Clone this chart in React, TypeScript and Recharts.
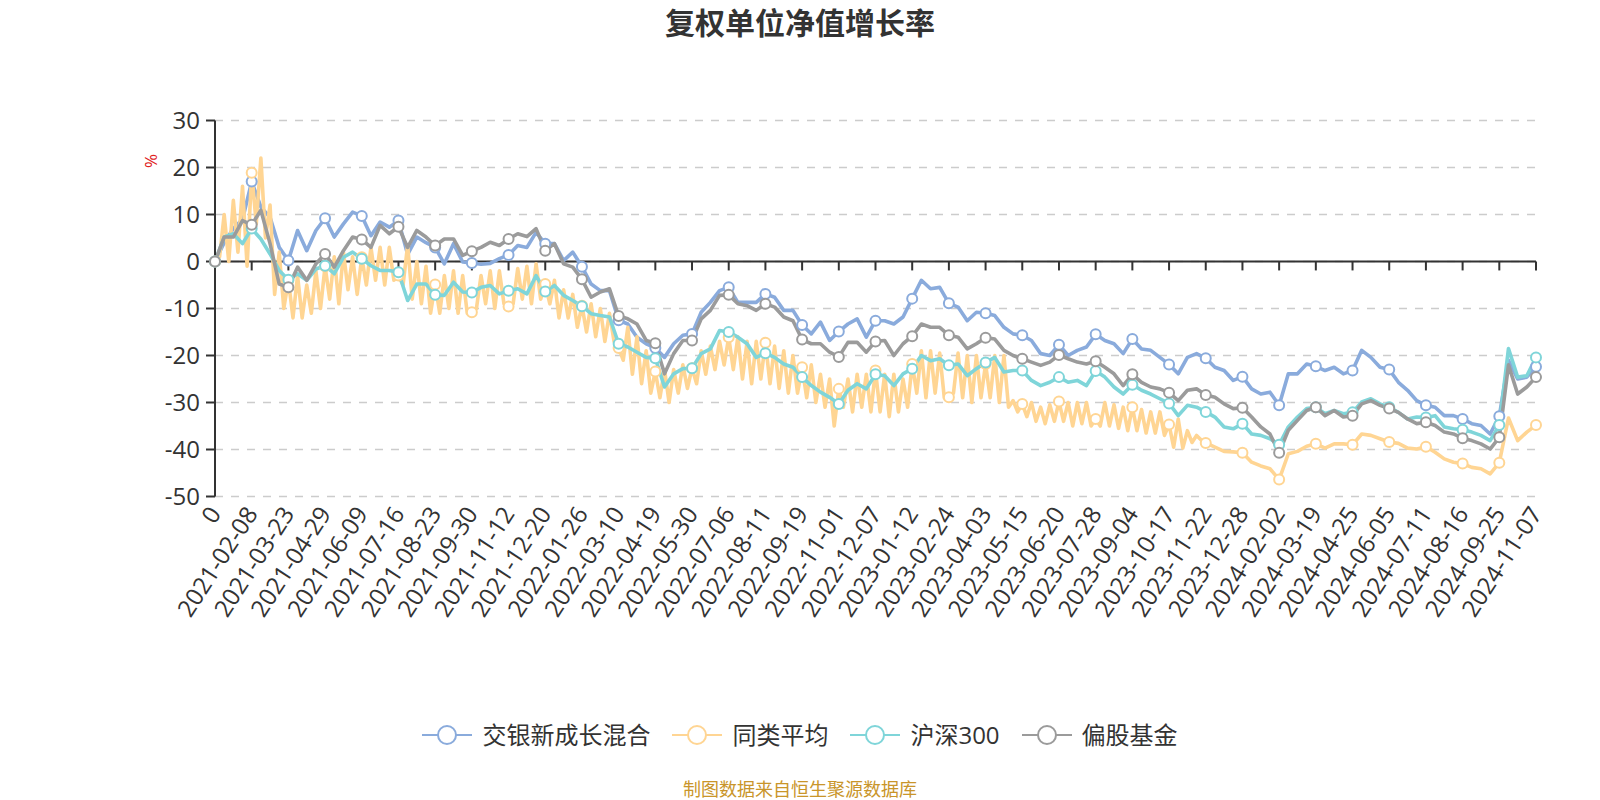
import React from 'react';
import { LineChart, Line, XAxis, YAxis, CartesianGrid, ReferenceLine, Legend } from 'recharts';

const STEP = 4;

const tickLabels = ['0','2021-02-08','2021-03-23','2021-04-29','2021-06-09','2021-07-16','2021-08-23','2021-09-30','2021-11-12','2021-12-20','2022-01-26','2022-03-10','2022-04-19','2022-05-30','2022-07-06','2022-08-11','2022-09-19','2022-11-01','2022-12-07','2023-01-12','2023-02-24','2023-04-03','2023-05-15','2023-06-20','2023-07-28','2023-09-04','2023-10-17','2023-11-22','2023-12-28','2024-02-02','2024-03-19','2024-04-25','2024-06-05','2024-07-11','2024-08-16','2024-09-25','2024-11-07'];

const fundValues = [0,4,7,9,17,11.6,9.4,3,0.2,6.6,
2.3,6.6,9.2,5.2,8,10.5,9.7,5.5,8.4,7.3,
8.7,1.5,5.2,4,3,-0.5,3.8,-0.1,-0.3,-0.6,
-0.4,0.6,1.4,3.4,3,6.2,3.8,3.8,0.2,2,
-1.1,-4.8,-6.2,-6.2,-12.5,-13.3,-16.1,-17.5,-18.4,-20.4,
-17.5,-15.7,-15.4,-10.8,-8.7,-6.2,-5.5,-8.7,-8.7,-8.7,
-6.9,-7.6,-10.4,-10.4,-13.5,-15.4,-12.9,-16.8,-14.9,-13.3,
-12.2,-16.1,-12.6,-12.6,-13.3,-11.8,-7.9,-4,-5.8,-5.5,
-8.9,-9.7,-12.6,-10.8,-11,-11.5,-14,-15.4,-15.7,-16.8,
-19.6,-20,-17.7,-20,-18.9,-18.2,-15.5,-16.8,-17.5,-19.6,
-16.5,-18.6,-18.9,-20.4,-21.9,-23.9,-20.4,-19.6,-20.6,-22.5,
-23.2,-25.3,-24.5,-27.1,-28.2,-27.8,-30.6,-23.9,-23.9,-21.8,
-22.3,-23.2,-22.5,-23.9,-23.2,-18.9,-20.4,-22.5,-23,-25.7,
-27.4,-29.6,-30.6,-31,-32.8,-32.8,-33.5,-34.5,-34.9,-36.7,
-32.9,-21,-25,-24.6,-22.4];

// 同类平均: half-step readings up to index 107.5 (8 per tick interval), then one per step
const peerAvgFineValues = [
0,1,10,0,13,2,16,-1,
18.9,8,22,5,12,-7,2,-10,
-4,-12,-3,-12,-5,-11,-2,-10,
-1,-8,1,-9,2,-6,1,-7,
0.9,-5,3,-4,3,-5,3,-4,
-3,-5,3.5,-8,0,-9,-1,-11,
-4.9,-11,-3,-10,-2,-11,-3,-11,
-10.8,-10,-3,-9,-2,-10,-2,-9,
-9.6,-9,-1.5,-8,-1,-9,-0.5,-8,
-4.8,-9,-4,-12,-6,-12,-7,-14,
-9.4,-15,-9,-16,-10,-17,-11,-17,
-18.4,-21,-14,-24,-16,-26,-19,-28,
-23.4,-29,-23,-30,-23,-28,-22,-27,
-22.7,-26,-19,-24,-18,-23,-17,-22,
-16.1,-23,-16,-25,-17,-26,-17,-25,
-17.3,-26,-18,-27,-19,-28,-20,-28,
-22.5,-29,-22,-30,-24,-31,-25,-35,
-27.1,-31,-25,-32,-24,-31,-24,-32,
-23.2,-32,-24,-33,-24,-32,-25,-31,
-21.8,-28,-19,-29,-19,-28,-19.5,-29,
-28.9,-28,-19.5,-29,-20,-30,-20,-29,
-21.8,-29,-20,-30,-20,-31,-29.6,-32,
-30.3,-33,-30,-34,-31,-34.5,-30.5,-34,
-29.8,-34,-30,-35,-30,-34.5,-30,-35,
-33.5,-35,-30,-35,-30.5,-35.5,-31,-36,
-31,-36,-31.5,-36.5,-32,-36.5,-32,-37,
-34.7,-39.5,-33.5,-39.7,-36,-38.5,-37,-38];
const peerAvgCoarseValues = [-38.6,-39.5,-40.4,-40.5,-40.7,-42.7,-43.5,-44.1,-46.4,-40.9,
-40.4,-39.3,-38.8,-39.7,-38.8,-38.8,-39,-36.7,-37,-37.7,
-38.4,-38.7,-39.7,-39.9,-39.4,-40.6,-42,-42.7,-43,-43.8,
-44.1,-45.2,-42.8,-33.3,-38.1,-36.3,-34.8];

const hs300Values = [0,5.2,5.9,3.8,7,4.8,1.6,-1.9,-3.9,-2.6,
-4,-1.6,-0.9,-2.6,0.9,2,0.6,-0.9,-1.9,-1.9,
-2.3,-8.3,-4.8,-4.8,-7.1,-7.2,-4.4,-6.5,-6.6,-5.5,
-5.1,-6.9,-6.2,-5.8,-6.9,-3,-6.4,-5.1,-7.2,-8.3,
-9.5,-11.1,-11.5,-11.8,-17.5,-18.2,-19.3,-20.4,-20.6,-26.7,
-23.9,-22.8,-22.7,-19.6,-18.6,-14.7,-15,-16.1,-17.5,-20.4,
-19.5,-20.4,-21.8,-22.5,-24.6,-26.4,-27.8,-28.9,-30.3,-27.4,
-26,-27.1,-24,-24.3,-26.4,-23.9,-22.8,-20,-21.1,-20.7,
-22.1,-21.8,-24.3,-22.8,-21.5,-20.4,-23.5,-23.2,-23.2,-25.3,
-26.4,-25.7,-24.6,-25.7,-25.3,-26.4,-23.3,-24.6,-26.7,-28.2,
-26.2,-27.4,-28.2,-29.2,-30.2,-32.8,-30.6,-31,-32,-33.1,
-35.2,-35.6,-34.5,-36.7,-37,-37.7,-39,-35.2,-33.1,-31.3,
-31,-32.4,-31.7,-32.4,-32.1,-29.9,-29.2,-30.3,-31,-32.1,
-33.5,-33.1,-33.2,-32.8,-35.2,-35.6,-35.8,-36.3,-37,-38.1,
-34.8,-18.5,-24.6,-24.3,-20.4];

const equityFundValues = [0,5.2,5.2,8.7,7.8,10.9,3.8,-4.8,-5.5,-1.2,
-4,-0.5,1.6,-1.2,2.3,5.2,4.7,3,7.7,5.9,
7.4,3,6.6,5.2,3.4,4.8,4.8,1.3,2.2,3,
4.1,3.4,4.8,5.9,5.3,7,2.3,3.8,-0.5,-1.2,
-3.8,-7.6,-6.5,-5.8,-11.6,-12.2,-13.3,-16.8,-17.4,-23.9,
-19.6,-16.8,-16.8,-12.2,-10.4,-7.2,-7.1,-9,-9.4,-10.4,
-9,-9.7,-11.8,-12.6,-16.6,-17.5,-17.5,-19.3,-20.3,-17.2,
-17.2,-19.3,-17,-16.8,-20,-17.5,-15.9,-13.3,-14,-14,
-15.7,-16.1,-18.6,-17.5,-16.2,-16.5,-18.9,-20,-20.7,-21.4,
-22.1,-21.4,-19.9,-20.7,-21.4,-21.8,-21.2,-22.5,-23.9,-26.4,
-24,-25.7,-26.7,-27.1,-27.9,-29.6,-27.4,-27.1,-28.4,-28.9,
-30.3,-31.3,-31.1,-33.1,-35.2,-36.7,-40.7,-35.9,-33.8,-31.7,
-31,-32.8,-31.7,-33.1,-32.8,-30.3,-29.6,-30.6,-31.3,-32.1,
-33.5,-34.5,-34.2,-34.9,-36.3,-36.7,-37.6,-38.1,-38.8,-39.9,
-37.4,-22,-28.2,-26.7,-24.6];

const yTicks = [-50, -40, -30, -20, -10, 0, 10, 20, 30];

const COLORS = { fund: '#8AABDC', peer: '#FFD593', hs300: '#7FD5D9', equity: '#9B9B9B' };

const mainData = fundValues.map((v, i) => ({ idx: i, fund: v, hs300: hs300Values[i], equity: equityFundValues[i] }));
const peerData = [
  ...peerAvgFineValues.map((v, j) => ({ idx: j / 2, peer: v })),
  ...peerAvgCoarseValues.map((v, k) => ({ idx: peerAvgFineValues.length / 2 + k, peer: v })),
];

const seriesDefs = [
  { key: 'fund', name: '交银新成长混合', color: COLORS.fund, data: mainData },
  { key: 'peer', name: '同类平均', color: COLORS.peer, data: peerData },
  { key: 'hs300', name: '沪深300', color: COLORS.hs300, data: mainData },
  { key: 'equity', name: '偏股基金', color: COLORS.equity, data: mainData },
];

const xTicks = tickLabels.map((_, k) => k * STEP);
const TICK_LEN = 1.9;

const FONT = "'Open Sans', 'Noto Sans CJK SC', sans-serif";

const XTick = (props: any) => {
  const { x, y, payload } = props;
  const label = tickLabels[Math.round(payload.value / STEP)];
  const ax = x - 1;
  const ay = y + 12;
  return (
    <text x={ax} y={ay} transform={`rotate(-57 ${ax} ${ay})`} textAnchor="end" dominantBaseline="central" fontSize={24} fill="#333" fontFamily={FONT}>
      {label}
    </text>
  );
};

const makeDot = (color: string) => (props: any) => {
  const { cx, cy, index, payload } = props;
  const x = payload ? payload.idx : -1;
  if (x % STEP !== 0 || cx == null || cy == null) return <g key={`e-${index}`} />;
  return <circle key={`d-${index}`} cx={cx} cy={cy} r={5} fill="#fff" stroke={color} strokeWidth={2} />;
};

const LegendContent = () => (
  <div style={{ display: 'flex', justifyContent: 'center', alignItems: 'center', fontFamily: FONT }}>
    {seriesDefs.map((s, i) => (
      <div key={s.key} style={{ display: 'flex', alignItems: 'center', marginLeft: i === 0 ? 0 : 22 }}>
        <svg width={50} height={22}>
          <line x1={0} y1={11} x2={50} y2={11} stroke={s.color} strokeWidth={2} />
          <circle cx={25} cy={11} r={9} fill="#fff" stroke={s.color} strokeWidth={2} />
        </svg>
        <span style={{ marginLeft: 10, fontSize: 24, color: '#333', lineHeight: '30px' }}>{s.name}</span>
      </div>
    ))}
  </div>
);

export default function App() {
  return (
    <div style={{ position: 'absolute', left: 0, top: 0, width: 1600, height: 800, background: '#fff', fontFamily: FONT }}>
      <div style={{ position: 'absolute', left: 0, top: 0, width: 1600, height: 45, lineHeight: '45px', textAlign: 'center', fontSize: 30, fontWeight: 'bold', color: '#333' }}>
        复权单位净值增长率
      </div>
      <div style={{ position: 'absolute', left: 151, top: 161, transform: 'translate(-50%, -50%) rotate(-90deg)', fontSize: 17, color: '#e02020', lineHeight: '20px' }}>%</div>
      <div style={{ position: 'absolute', left: 0, top: 0 }}>
        <LineChart width={1600} height={800} margin={{ top: 120.5, right: 64, bottom: 0, left: 0 }}>
          <CartesianGrid horizontal vertical={false} stroke="#cccccc" strokeDasharray="8 8" strokeWidth={1.5} />
          <XAxis dataKey="idx" type="number" domain={[0, (tickLabels.length - 1) * STEP]} ticks={xTicks} interval={0}
            allowDuplicatedCategory={false}
            height={303.5} axisLine={false} tickLine={false} tickSize={0} tickMargin={0} tick={<XTick />} />
          <YAxis type="number" domain={[-50, 30]} ticks={yTicks} width={215} interval={0}
            axisLine={{ stroke: '#333', strokeWidth: 2 }} tickLine={{ stroke: '#333', strokeWidth: 2 }} tickSize={9} tickMargin={6}
            tick={{ fontSize: 24, fill: '#333', fontFamily: FONT }} />
          <ReferenceLine y={0} stroke="#333" strokeWidth={2} />
          {xTicks.slice(1).map((t) => (
            <ReferenceLine key={`t${t}`} segment={[{ x: t, y: 0 }, { x: t, y: -TICK_LEN }]} stroke="#333" strokeWidth={2} />
          ))}
          {seriesDefs.map((s) => (
            <Line key={s.key} data={s.data} dataKey={s.key} name={s.name} type="linear" stroke={s.color} strokeWidth={3.6}
              strokeLinejoin="round" dot={makeDot(s.color)} activeDot={false} isAnimationActive={false} />
          ))}
          <Legend verticalAlign="middle" align="center" layout="horizontal" content={<LegendContent />}
            wrapperStyle={{ top: 720, left: 0, width: 1600, bottom: 'auto' }} />
        </LineChart>
      </div>
      <div style={{ position: 'absolute', left: 0, top: 777, width: 1600, textAlign: 'center', fontSize: 18, color: '#C9952A', lineHeight: '24px' }}>
        制图数据来自恒生聚源数据库
      </div>
    </div>
  );
}
